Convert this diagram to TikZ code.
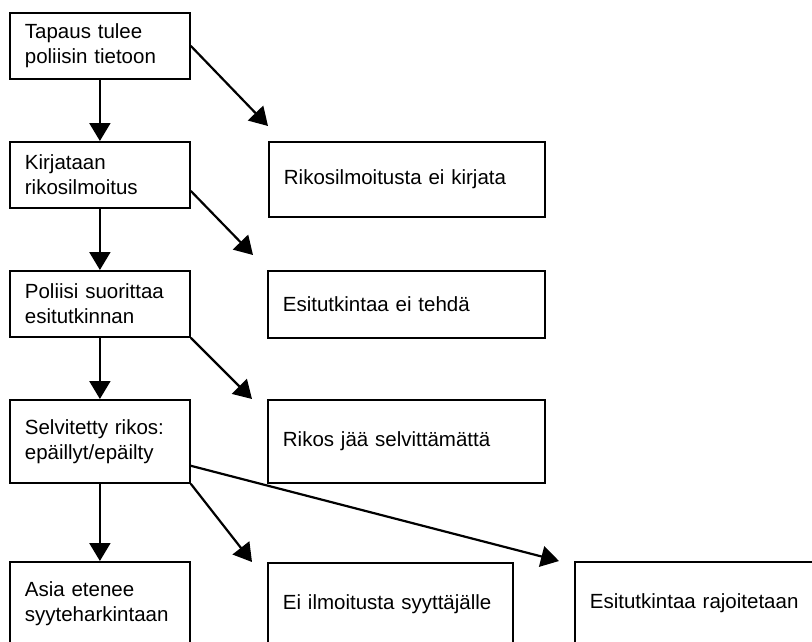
\documentclass[tikz,border=0pt]{standalone}
\usepackage{fontspec}
\setmainfont{Liberation Sans}
\usetikzlibrary{arrows.meta,positioning}

\begin{document}
\begin{tikzpicture}[x=1pt,y=-1pt,
    box/.style={draw, line width=1.8pt, anchor=north west, align=left,
      inner xsep=15pt, inner ysep=0pt,
      font=\fontsize{20.5}{24.6}\selectfont},
    arr/.style={line width=2.2pt, -{Triangle[length=18pt,width=21pt]}}]
    \clip (0,0) rectangle (812,641);
    % vasen sarake
    \node[box, text width=150pt, minimum height=66pt] (tapaus) at (9,12)
      {Tapaus tulee\\poliisin tietoon};
    \node[box, text width=150pt, minimum height=66pt] (kirjataan) at (9,141)
      {Kirjataan\\rikosilmoitus};
    \node[box, text width=150pt, minimum height=66pt] (poliisi) at (9,270)
      {Poliisi suorittaa\\esitutkinnan};
    \node[box, text width=150pt, minimum height=83pt] (selvitetty) at (9,399)
      {Selvitetty rikos:\\epäillyt/epäilty};
    \node[box, text width=150pt, minimum height=83pt] (asia) at (9,561)
      {Asia etenee\\syyteharkintaan};
    % oikea puoli
    \node[box, text width=246pt, minimum height=75pt] (eikirjata) at (268,141)
      {Rikosilmoitusta ei kirjata};
    \node[box, text width=247pt, minimum height=67pt] (eitehda) at (267,270)
      {Esitutkintaa ei tehdä};
    \node[box, text width=247pt, minimum height=83pt] (selvittamatta) at (267,399)
      {Rikos jää selvittämättä};
    \node[box, text width=215pt, minimum height=83pt] (eiilmoitusta) at (267,562)
      {Ei ilmoitusta syyttäjälle};
    \node[box, text width=246pt, minimum height=83pt] (rajoitetaan) at (574,561)
      {Esitutkintaa rajoitetaan};
    % nuolten kärjet
    \coordinate[above=15pt of eikirjata.north west] (k1);
    \coordinate[above left=15pt and 14pt of eitehda.north west] (k2);
    \coordinate[left=15pt of selvittamatta.north west] (k3);
    \coordinate[left=15pt of eiilmoitusta.north west] (k4);
    \coordinate[left=15pt of rajoitetaan.north west] (k5);
    % nuolet
    \draw[arr] (tapaus) -- (kirjataan);
    \draw[arr] (kirjataan) -- (poliisi);
    \draw[arr] (poliisi) -- (selvitetty);
    \draw[arr] (selvitetty) -- (asia);
    \draw[arr] (tapaus.east) -- (k1);
    \draw[arr] (kirjataan.-10) -- (k2);
    \draw[arr] (poliisi.south east) -- (k3);
    \draw[arr] (selvitetty.south east) -- (k4);
    \draw[arr] (selvitetty.-15) -- (k5);
  \end{tikzpicture}
\end{document}
